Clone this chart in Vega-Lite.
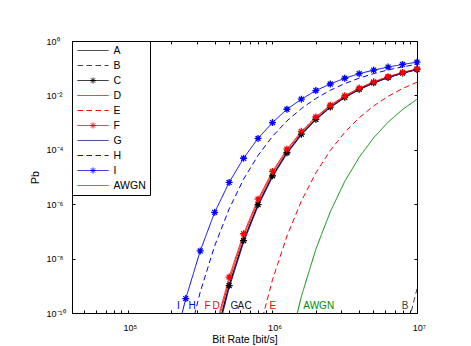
{
  "$schema": "https://vega.github.io/schema/vega-lite/v6.json",
  "width": 345,
  "height": 272,
  "autosize": "none",
  "padding": {"left": 72, "top": 41, "right": 54, "bottom": 33},
  "background": "white",
  "config": {
    "view": {"stroke": "black", "strokeWidth": 1},
    "font": "Liberation Sans",
    "axis": {
      "domain": false,
      "grid": false,
      "tickColor": "black",
      "tickSize": -3,
      "tickWidth": 1,
      "labelColor": "black",
      "titleColor": "black",
      "labelFont": "Liberation Sans",
      "titleFont": "Liberation Sans",
      "labelFontSize": 9,
      "titleFontSize": 10.5,
      "titleFontWeight": "normal",
      "labelOverlap": false,
      "labelFlush": false,
      "labelBound": false
    }
  },
  "datasets": {
    "curves": [
      {"curve": "A", "rate": 398107, "pb": 8.77e-12},
      {"curve": "A", "rate": 501187, "pb": 1.02e-9},
      {"curve": "A", "rate": 630957, "pb": 4.59e-8},
      {"curve": "A", "rate": 794328, "pb": 9.62e-7},
      {"curve": "A", "rate": 1000000, "pb": 1.10e-5},
      {"curve": "A", "rate": 1258925, "pb": 7.78e-5},
      {"curve": "A", "rate": 1584893, "pb": 3.75e-4},
      {"curve": "A", "rate": 1995262, "pb": 1.33e-3},
      {"curve": "A", "rate": 2511886, "pb": 3.71e-3},
      {"curve": "A", "rate": 3162278, "pb": 8.51e-3},
      {"curve": "A", "rate": 3981072, "pb": 1.67e-2},
      {"curve": "A", "rate": 5011872, "pb": 2.90e-2},
      {"curve": "A", "rate": 6309573, "pb": 4.56e-2},
      {"curve": "A", "rate": 7943282, "pb": 6.62e-2},
      {"curve": "A", "rate": 10000000, "pb": 8.97e-2},
      {"curve": "B", "rate": 7943282, "pb": 6.03e-12},
      {"curve": "B", "rate": 10000000, "pb": 7.76e-10},
      {"curve": "C", "rate": 398107, "pb": 8.77e-12},
      {"curve": "C", "rate": 501187, "pb": 1.02e-9},
      {"curve": "C", "rate": 630957, "pb": 4.59e-8},
      {"curve": "C", "rate": 794328, "pb": 9.62e-7},
      {"curve": "C", "rate": 1000000, "pb": 1.10e-5},
      {"curve": "C", "rate": 1258925, "pb": 7.78e-5},
      {"curve": "C", "rate": 1584893, "pb": 3.75e-4},
      {"curve": "C", "rate": 1995262, "pb": 1.33e-3},
      {"curve": "C", "rate": 2511886, "pb": 3.71e-3},
      {"curve": "C", "rate": 3162278, "pb": 8.51e-3},
      {"curve": "C", "rate": 3981072, "pb": 1.67e-2},
      {"curve": "C", "rate": 5011872, "pb": 2.90e-2},
      {"curve": "C", "rate": 6309573, "pb": 4.56e-2},
      {"curve": "C", "rate": 7943282, "pb": 6.62e-2},
      {"curve": "C", "rate": 10000000, "pb": 8.97e-2},
      {"curve": "D", "rate": 398107, "pb": 1.47e-11},
      {"curve": "D", "rate": 501187, "pb": 1.53e-9},
      {"curve": "D", "rate": 630957, "pb": 6.38e-8},
      {"curve": "D", "rate": 794328, "pb": 1.26e-6},
      {"curve": "D", "rate": 1000000, "pb": 1.36e-5},
      {"curve": "D", "rate": 1258925, "pb": 9.23e-5},
      {"curve": "D", "rate": 1584893, "pb": 4.31e-4},
      {"curve": "D", "rate": 1995262, "pb": 1.49e-3},
      {"curve": "D", "rate": 2511886, "pb": 4.06e-3},
      {"curve": "D", "rate": 3162278, "pb": 9.14e-3},
      {"curve": "D", "rate": 3981072, "pb": 1.77e-2},
      {"curve": "D", "rate": 5011872, "pb": 3.04e-2},
      {"curve": "D", "rate": 6309573, "pb": 4.74e-2},
      {"curve": "D", "rate": 7943282, "pb": 6.84e-2},
      {"curve": "D", "rate": 10000000, "pb": 9.25e-2},
      {"curve": "E", "rate": 794328, "pb": 1.59e-11},
      {"curve": "E", "rate": 1000000, "pb": 1.65e-9},
      {"curve": "E", "rate": 1258925, "pb": 6.70e-8},
      {"curve": "E", "rate": 1584893, "pb": 1.31e-6},
      {"curve": "E", "rate": 1995262, "pb": 1.41e-5},
      {"curve": "E", "rate": 2511886, "pb": 9.44e-5},
      {"curve": "E", "rate": 3162278, "pb": 4.39e-4},
      {"curve": "E", "rate": 3981072, "pb": 1.51e-3},
      {"curve": "E", "rate": 5011872, "pb": 4.10e-3},
      {"curve": "E", "rate": 6309573, "pb": 9.25e-3},
      {"curve": "E", "rate": 7943282, "pb": 1.79e-2},
      {"curve": "E", "rate": 10000000, "pb": 3.06e-2},
      {"curve": "F", "rate": 398107, "pb": 2.17e-11},
      {"curve": "F", "rate": 501187, "pb": 2.09e-9},
      {"curve": "F", "rate": 630957, "pb": 8.18e-8},
      {"curve": "F", "rate": 794328, "pb": 1.53e-6},
      {"curve": "F", "rate": 1000000, "pb": 1.60e-5},
      {"curve": "F", "rate": 1258925, "pb": 1.05e-4},
      {"curve": "F", "rate": 1584893, "pb": 4.76e-4},
      {"curve": "F", "rate": 1995262, "pb": 1.62e-3},
      {"curve": "F", "rate": 2511886, "pb": 4.35e-3},
      {"curve": "F", "rate": 3162278, "pb": 9.66e-3},
      {"curve": "F", "rate": 3981072, "pb": 1.86e-2},
      {"curve": "F", "rate": 5011872, "pb": 3.16e-2},
      {"curve": "F", "rate": 6309573, "pb": 4.89e-2},
      {"curve": "F", "rate": 7943282, "pb": 7.00e-2},
      {"curve": "F", "rate": 10000000, "pb": 9.42e-2},
      {"curve": "G", "rate": 398107, "pb": 6.81e-12},
      {"curve": "G", "rate": 501187, "pb": 8.30e-10},
      {"curve": "G", "rate": 630957, "pb": 3.91e-8},
      {"curve": "G", "rate": 794328, "pb": 8.49e-7},
      {"curve": "G", "rate": 1000000, "pb": 9.93e-6},
      {"curve": "G", "rate": 1258925, "pb": 7.18e-5},
      {"curve": "G", "rate": 1584893, "pb": 3.50e-4},
      {"curve": "G", "rate": 1995262, "pb": 1.26e-3},
      {"curve": "G", "rate": 2511886, "pb": 3.55e-3},
      {"curve": "G", "rate": 3162278, "pb": 8.22e-3},
      {"curve": "G", "rate": 3981072, "pb": 1.63e-2},
      {"curve": "G", "rate": 5011872, "pb": 2.83e-2},
      {"curve": "G", "rate": 6309573, "pb": 4.48e-2},
      {"curve": "G", "rate": 7943282, "pb": 6.50e-2},
      {"curve": "G", "rate": 10000000, "pb": 8.85e-2},
      {"curve": "H", "rate": 251189, "pb": 4.40e-12},
      {"curve": "H", "rate": 316228, "pb": 5.89e-10},
      {"curve": "H", "rate": 398107, "pb": 2.94e-8},
      {"curve": "H", "rate": 501187, "pb": 6.68e-7},
      {"curve": "H", "rate": 630957, "pb": 8.28e-6},
      {"curve": "H", "rate": 794328, "pb": 6.19e-5},
      {"curve": "H", "rate": 1000000, "pb": 3.12e-4},
      {"curve": "H", "rate": 1258925, "pb": 1.15e-3},
      {"curve": "H", "rate": 1584893, "pb": 3.29e-3},
      {"curve": "H", "rate": 1995262, "pb": 7.71e-3},
      {"curve": "H", "rate": 2511886, "pb": 1.54e-2},
      {"curve": "H", "rate": 3162278, "pb": 2.72e-2},
      {"curve": "H", "rate": 3981072, "pb": 4.32e-2},
      {"curve": "H", "rate": 5011872, "pb": 6.32e-2},
      {"curve": "H", "rate": 6309573, "pb": 8.65e-2},
      {"curve": "H", "rate": 7943282, "pb": 1.12e-1},
      {"curve": "H", "rate": 10000000, "pb": 1.40e-1},
      {"curve": "I", "rate": 199526, "pb": 2.51e-12},
      {"curve": "I", "rate": 251189, "pb": 3.39e-10},
      {"curve": "I", "rate": 316228, "pb": 1.91e-8},
      {"curve": "I", "rate": 398107, "pb": 5.01e-7},
      {"curve": "I", "rate": 501187, "pb": 6.31e-6},
      {"curve": "I", "rate": 630957, "pb": 4.90e-5},
      {"curve": "I", "rate": 794328, "pb": 2.63e-4},
      {"curve": "I", "rate": 1000000, "pb": 1.00e-3},
      {"curve": "I", "rate": 1258925, "pb": 3.09e-3},
      {"curve": "I", "rate": 1584893, "pb": 7.24e-3},
      {"curve": "I", "rate": 1995262, "pb": 1.51e-2},
      {"curve": "I", "rate": 2511886, "pb": 2.63e-2},
      {"curve": "I", "rate": 3162278, "pb": 4.27e-2},
      {"curve": "I", "rate": 3981072, "pb": 6.31e-2},
      {"curve": "I", "rate": 5011872, "pb": 8.51e-2},
      {"curve": "I", "rate": 6309573, "pb": 1.10e-1},
      {"curve": "I", "rate": 7943282, "pb": 1.38e-1},
      {"curve": "I", "rate": 10000000, "pb": 1.66e-1},
      {"curve": "AWGN", "rate": 1258925, "pb": 2.73e-12},
      {"curve": "AWGN", "rate": 1584893, "pb": 4.07e-10},
      {"curve": "AWGN", "rate": 1995262, "pb": 2.20e-8},
      {"curve": "AWGN", "rate": 2511886, "pb": 5.30e-7},
      {"curve": "AWGN", "rate": 3162278, "pb": 6.86e-6},
      {"curve": "AWGN", "rate": 3981072, "pb": 5.31e-5},
      {"curve": "AWGN", "rate": 5011872, "pb": 2.76e-4},
      {"curve": "AWGN", "rate": 6309573, "pb": 1.04e-3},
      {"curve": "AWGN", "rate": 7943282, "pb": 3.03e-3},
      {"curve": "AWGN", "rate": 10000000, "pb": 7.24e-3}
    ],
    "tags": [
      {"curve": "I", "label": "I", "rate": 223000, "pb": 1.4e-10},
      {"curve": "H", "label": "H", "rate": 278000, "pb": 1.4e-10},
      {"curve": "F", "label": "F", "rate": 355000, "pb": 1.4e-10},
      {"curve": "D", "label": "D", "rate": 408000, "pb": 1.4e-10},
      {"curve": "G", "label": "G", "rate": 544000, "pb": 1.4e-10},
      {"curve": "A", "label": "A", "rate": 604000, "pb": 1.4e-10},
      {"curve": "C", "label": "C", "rate": 679000, "pb": 1.4e-10},
      {"curve": "E", "label": "E", "rate": 1005000, "pb": 1.4e-10},
      {"curve": "AWGN", "label": "AWGN", "rate": 2090000, "pb": 1.4e-10},
      {"curve": "B", "label": "B", "rate": 8260000, "pb": 1.4e-10}
    ]
  },
  "layer": [
    {
      "data": {"name": "curves"},
      "mark": {"type": "line", "clip": true, "strokeWidth": 1},
      "encoding": {
        "x": {
          "field": "rate",
          "type": "quantitative",
          "scale": {"type": "log", "domain": [41000, 10000000], "nice": false},
          "axis": {
            "orient": "bottom",
            "title": "Bit Rate [bit/s]",
            "values": [50000, 60000, 70000, 80000, 90000, 100000, 200000, 300000, 400000, 500000, 600000, 700000, 800000, 900000, 1000000, 2000000, 3000000, 4000000, 5000000, 6000000, 7000000, 8000000, 9000000, 10000000],
            "labelExpr": "datum.value === 100000 ? '10⁵' : datum.value === 1000000 ? '10⁶' : datum.value === 10000000 ? '10⁷' : ''",
            "labelBaseline": "alphabetic",
            "labelPadding": 20,
            "labelOffset": 2,
            "titleBaseline": "alphabetic",
            "titleY": 29
          }
        },
        "y": {
          "field": "pb",
          "type": "quantitative",
          "scale": {"type": "log", "domain": [1e-10, 1], "nice": false},
          "axis": {
            "orient": "left",
            "title": "Pb",
            "values": [1e-10, 1e-8, 1e-6, 1e-4, 1e-2, 1],
            "labelExpr": "datum.value === 1 ? '10⁰' : datum.value === 0.01 ? '10⁻²' : datum.value === 0.0001 ? '10⁻⁴' : datum.value === 0.000001 ? '10⁻⁶' : datum.value === 1e-8 ? '10⁻⁸' : '10⁻¹⁰'",
            "labelAlign": "left",
            "labelBaseline": "middle",
            "labelPadding": 29,
            "titleBaseline": "alphabetic",
            "titleX": -34,
            "titleY": 136
          }
        },
        "color": {
          "field": "curve",
          "type": "nominal",
          "scale": {
            "domain": ["A", "B", "C", "D", "E", "F", "G", "H", "I", "AWGN"],
            "range": ["#1a1a1a", "#404040", "#000000", "#ff0000", "#ff0000", "#ff0000", "#10109a", "#0000ff", "#0000ff", "#008a00"]
          },
          "legend": {
            "title": null,
            "orient": "top-left",
            "offset": 0,
            "padding": 4,
            "strokeColor": "black",
            "fillColor": "white",
            "cornerRadius": 0,
            "symbolSize": 100,
            "symbolStrokeWidth": 1,
            "symbolOffset": 11.5,
            "labelOffset": 15,
            "labelFont": "Liberation Sans",
            "labelFontSize": 10.5,
            "labelColor": "black",
            "rowPadding": 4,
            "symbolType": "M-3.1,0H3.1",
            "encode": {
              "symbols": {
                "update": {
                  "shape": {"signal": "indexof(['C','F','I'], datum.value) >= 0 ? 'M-3.1,0H3.1M0,-0.6V0.6M-0.6,0H0.6M-0.42,-0.42L0.42,0.42M-0.42,0.42L0.42,-0.42' : 'M-3.1,0H3.1'"},
                  "opacity": {"value": 1}
                }
              }
            }
          }
        },
        "strokeDash": {
          "field": "curve",
          "type": "nominal",
          "scale": {
            "domain": ["A", "B", "C", "D", "E", "F", "G", "H", "I", "AWGN"],
            "range": [[1, 0], [5.5, 3.5], [1, 0], [1, 0], [5.5, 3.5], [1, 0], [1, 0], [5.5, 3.5], [1, 0], [1, 0]]
          },
          "legend": {
            "title": null,
            "orient": "top-left",
            "offset": 0,
            "padding": 4,
            "strokeColor": "black",
            "fillColor": "white",
            "cornerRadius": 0,
            "symbolSize": 100,
            "symbolStrokeWidth": 1,
            "symbolOffset": 11.5,
            "labelOffset": 15,
            "labelFont": "Liberation Sans",
            "labelFontSize": 10.5,
            "labelColor": "black",
            "rowPadding": 4,
            "symbolType": "M-3.1,0H3.1",
            "encode": {
              "symbols": {
                "update": {
                  "shape": {"signal": "indexof(['C','F','I'], datum.value) >= 0 ? 'M-3.1,0H3.1M0,-0.6V0.6M-0.6,0H0.6M-0.42,-0.42L0.42,0.42M-0.42,0.42L0.42,-0.42' : 'M-3.1,0H3.1'"},
                  "opacity": {"value": 1}
                }
              }
            }
          }
        }
      }
    },
    {
      "data": {"name": "curves"},
      "transform": [
        {"filter": {"field": "curve", "oneOf": ["C", "F", "I"]}},
        {"filter": {"field": "pb", "gte": 1e-10}}
      ],
      "mark": {
        "type": "point",
        "shape": "M0,-1V1M-1,0H1M-0.7,-0.7L0.7,0.7M-0.7,0.7L0.7,-0.7",
        "filled": false,
        "size": 49,
        "strokeWidth": 1.3,
        "opacity": 1
      },
      "encoding": {
        "x": {
          "field": "rate",
          "type": "quantitative",
          "scale": {"type": "log", "domain": [41000, 10000000], "nice": false},
          "axis": {
            "orient": "top",
            "title": null,
            "labels": false,
            "values": [50000, 60000, 70000, 80000, 90000, 100000, 200000, 300000, 400000, 500000, 600000, 700000, 800000, 900000, 1000000, 2000000, 3000000, 4000000, 5000000, 6000000, 7000000, 8000000, 9000000, 10000000]
          }
        },
        "y": {
          "field": "pb",
          "type": "quantitative",
          "scale": {"type": "log", "domain": [1e-10, 1], "nice": false},
          "axis": {
            "orient": "right",
            "title": null,
            "labels": false,
            "values": [1e-10, 1e-8, 1e-6, 1e-4, 1e-2, 1]
          }
        },
        "color": {
          "field": "curve",
          "type": "nominal",
          "scale": {
            "domain": ["A", "B", "C", "D", "E", "F", "G", "H", "I", "AWGN"],
            "range": ["#1a1a1a", "#404040", "#000000", "#ff0000", "#ff0000", "#ff0000", "#10109a", "#0000ff", "#0000ff", "#008a00"]
          },
          "legend": null
        }
      }
    },
    {
      "data": {"name": "tags"},
      "mark": {"type": "text", "font": "Liberation Sans", "fontSize": 10, "align": "center", "baseline": "alphabetic"},
      "encoding": {
        "x": {"field": "rate", "type": "quantitative", "scale": {"type": "log", "domain": [41000, 10000000], "nice": false}, "axis": null},
        "y": {"field": "pb", "type": "quantitative", "scale": {"type": "log", "domain": [1e-10, 1], "nice": false}, "axis": null},
        "text": {"field": "label"},
        "color": {
          "field": "curve",
          "type": "nominal",
          "scale": {
            "domain": ["A", "B", "C", "D", "E", "F", "G", "H", "I", "AWGN"],
            "range": ["#1a1a1a", "#404040", "#000000", "#ff0000", "#ff0000", "#ff0000", "#10109a", "#0000ff", "#0000ff", "#008a00"]
          },
          "legend": null
        }
      }
    }
  ],
  "resolve": {"axis": {"x": "independent", "y": "independent"}}
}
